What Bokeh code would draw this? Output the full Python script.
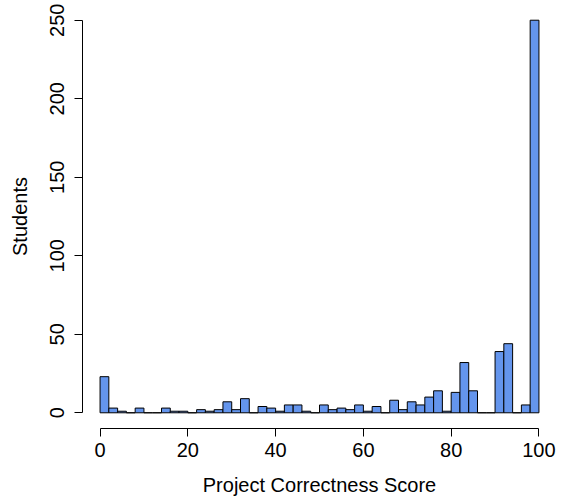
from bokeh.plotting import figure
from bokeh.models import Range1d, FixedTicker, ColumnDataSource
from bokeh.embed import file_html
from bokeh.resources import INLINE

# Histogram of project correctness scores (bins of width 2 from 0 to 100)
bin_width = 2
bin_starts = list(range(0, 100, bin_width))
counts = [23, 3, 1, 0, 3, 0, 0, 3, 1, 1,
          0, 2, 1, 2, 7, 2, 9, 0, 4, 3,
          1, 5, 5, 1, 0, 5, 2, 3, 2, 5,
          1, 4, 0, 8, 2, 7, 5, 10, 14, 1,
          13, 32, 14, 0, 0, 39, 44, 0, 5, 250]
x_ticks = [0, 20, 40, 60, 80, 100]
y_ticks = [0, 50, 100, 150, 200, 250]

src = ColumnDataSource(dict(
    left=bin_starts,
    right=[b + bin_width for b in bin_starts],
    top=counts,
    bottom=[0] * len(counts),
))

FONT = "Liberation Sans"

p = figure(width=564, height=498, output_backend="svg", toolbar_location=None,
           x_range=Range1d(-4, 104), y_range=Range1d(-10, 260),
           min_border_left=82, min_border_right=8, min_border_top=4,
           min_border_bottom=70)
p.outline_line_color = None
p.xgrid.visible = False
p.ygrid.visible = False
p.background_fill_color = "white"
p.border_fill_color = "white"

p.quad(left="left", right="right", top="top", bottom="bottom", source=src,
       fill_color="#6495ED", line_color="black", line_width=1)

for ax, ticks in ((p.xaxis[0], x_ticks), (p.yaxis[0], y_ticks)):
    ax.ticker = FixedTicker(ticks=ticks)
    ax.bounds = (ticks[0], ticks[-1])
    ax.minor_tick_line_color = None
    ax.major_tick_in = 0
    ax.major_tick_out = 8
    ax.axis_line_color = "black"
    ax.major_tick_line_color = "black"
    ax.major_label_text_font = FONT
    ax.major_label_text_font_size = "20px"
    ax.major_label_text_color = "black"
    ax.axis_label_text_font = FONT
    ax.axis_label_text_font_size = "20px"
    ax.axis_label_text_font_style = "normal"
    ax.axis_label_text_color = "black"

p.xaxis.axis_label = "Project Correctness Score"
p.yaxis.axis_label = "Students"
p.xaxis.major_label_standoff = 6
p.xaxis.axis_label_standoff = 14
p.yaxis.major_label_orientation = "vertical"
p.yaxis.major_label_standoff = 10
p.yaxis.axis_label_standoff = 17

open("out.html", "w").write(file_html(p, INLINE))
